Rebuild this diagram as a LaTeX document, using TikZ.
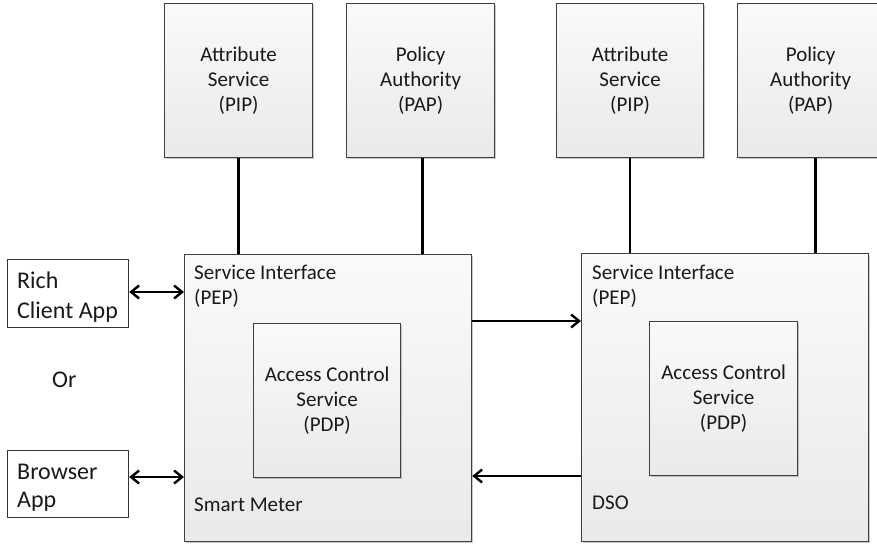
\documentclass[tikz,border=0pt]{standalone}
\usepackage{fontspec}
\setmainfont{Carlito}
\usetikzlibrary{arrows.meta,shadows}
\tikzset{
  shadedbox/.style={draw=black!75, line width=1.2pt, top color=gray!4, bottom color=gray!17,
     drop shadow={shadow xshift=1.2pt, shadow yshift=-1.6pt, opacity=0.35, fill=black!60},
     anchor=north west, inner sep=0pt, align=center, text=black!90},
  whitebox/.style={draw=black!80, line width=1.2pt, fill=white, anchor=north west, inner sep=0pt},
  lbl/.style={anchor=north west, inner sep=0pt, align=left, text=black!90},
  biglbl/.style={lbl, font=\fontsize{24}{29}\selectfont},
  conn/.style={line width=2.5pt, black},
  arr/.style={line width=2.5pt, black, -{Straight Barb[length=8pt,width=13pt,line width=2.4pt]}},
  darr/.style={line width=2.5pt, black, {Straight Barb[length=8pt,width=13pt,line width=2.4pt]}-{Straight Barb[length=8pt,width=13pt,line width=2.4pt]}},
}
\begin{document}
\begin{tikzpicture}[x=1pt,y=-1pt,font=\fontsize{21}{25}\selectfont]
\useasboundingbox (0,0) rectangle (877,544);
% top boxes
\node[shadedbox, minimum width=148pt, minimum height=154pt] (pipa) at (164,3) {Attribute\\Service\\(PIP)};
\node[shadedbox, minimum width=148pt, minimum height=154pt] (papa) at (346,3) {Policy\\Authority\\(PAP)};
\node[shadedbox, minimum width=147pt, minimum height=154pt] (pipb) at (556,3) {Attribute\\Service\\(PIP)};
\node[shadedbox, minimum width=146pt, minimum height=154pt] (papb) at (737,3) {Policy\\Authority\\(PAP)};
% big boxes
\node[shadedbox, minimum width=287pt, minimum height=287pt] (sm) at (184,254) {};
\node[shadedbox, minimum width=287pt, minimum height=288pt] (dso) at (581,253) {};
% inner boxes
\node[shadedbox, minimum width=147pt, minimum height=154pt] (pdpa) at (253,323) {Access Control\\Service\\(PDP)};
\node[shadedbox, minimum width=148pt, minimum height=154pt] (pdpb) at (649,321) {Access Control\\Service\\(PDP)};
% labels in big boxes
\node[lbl, anchor=base west] (sia1) at (194,279) {Service Interface};
\node[lbl, anchor=base west] (sia2) at (194,304) {(PEP)};
\node[lbl, anchor=base west] (sib1) at (592,279) {Service Interface};
\node[lbl, anchor=base west] (sib2) at (592,304) {(PEP)};
\node[lbl, anchor=base west] (smlbl) at (194,511) {Smart Meter};
\node[lbl, anchor=base west] (dsolbl) at (592,509) {DSO};
% left boxes
\node[whitebox, minimum width=121pt, minimum height=68pt] (rich) at (7,259) {};
\node[biglbl, anchor=base west] (richa) at (17,288) {Rich};
\node[biglbl, anchor=base west] (richb) at (17,318) {Client App};
\node[whitebox, minimum width=121pt, minimum height=67pt] (brow) at (7,450) {};
\node[biglbl, anchor=base west] (browa) at (17,479) {Browser};
\node[biglbl, anchor=base west] (browb) at (17,507) {App};
\node[biglbl, anchor=base west] (or) at (52,387) {Or};
% connectors
\draw[conn] (pipa.south) -- (pipa.south |- sm.north);
\draw[conn] ([xshift=2pt]papa.south) -- ([xshift=2pt]papa.south |- sm.north);
\draw[conn] (pipb.south) -- (pipb.south |- dso.north);
\draw[conn] ([xshift=5pt]papb.south) -- ([xshift=5pt]papb.south |- dso.north);
\draw[darr] (rich.east |- 0,292) -- (sm.west |- 0,292);
\draw[darr] (brow.east |- 0,477) -- (sm.west |- 0,477);
\draw[arr] (sm.east |- 0,321) -- (dso.west |- 0,321);
\draw[arr] (dso.west |- 0,476) -- (sm.east |- 0,476);
\end{tikzpicture}
\end{document}
